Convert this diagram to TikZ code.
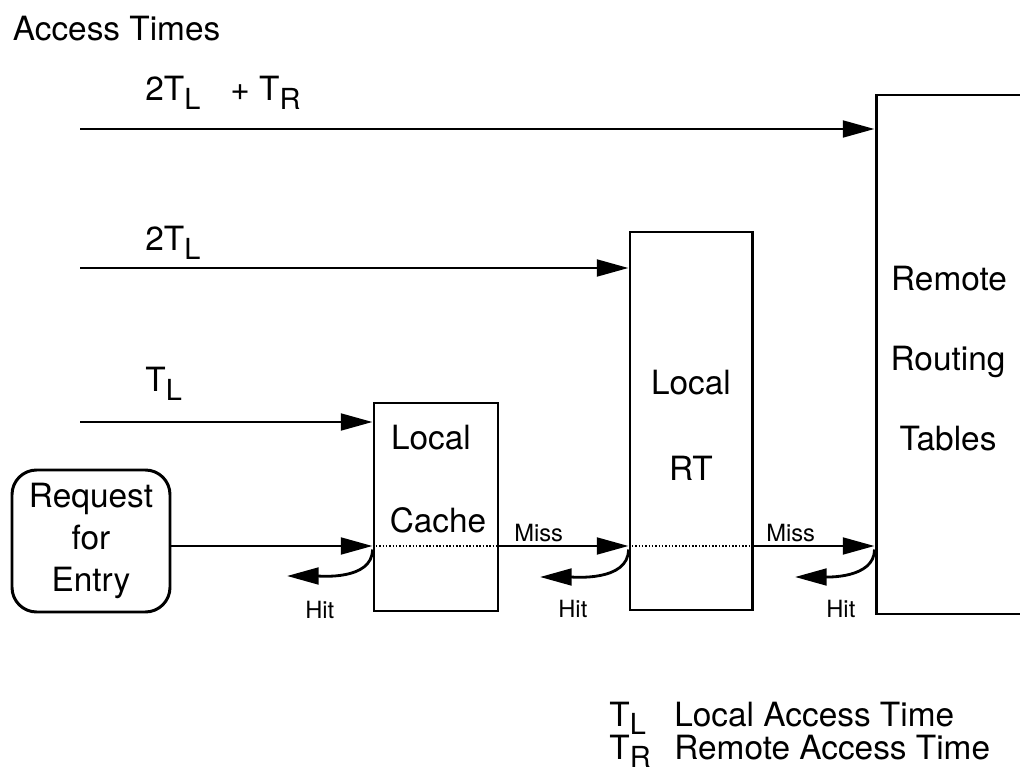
\documentclass[tikz,border=0pt]{standalone}
\usepackage{fontspec}
\setmainfont{TeX Gyre Heros}
\usepackage{tikz}
\usetikzlibrary{arrows.meta}
\usetikzlibrary{backgrounds,positioning}
\pgfdeclarelayer{edgelayer}
\pgfdeclarelayer{nodelayer}
\pgfsetlayers{background,edgelayer,nodelayer,main}
\newcommand{\sbs}[1]{\raisebox{-0.25em}{\fontsize{16.5pt}{16.5pt}\selectfont #1}}
\tikzstyle{none}=[inner sep=0mm]
\tikzstyle{txt}=[inner sep=0mm,font=\fontsize{19pt}{23pt}\selectfont]
\tikzstyle{ltxt}=[txt,anchor=base west]
\tikzstyle{small}=[inner sep=0mm,anchor=west,font=\fontsize{13.5pt}{16pt}\selectfont]
\tikzstyle{blk}=[draw=black,line width=1.7pt,inner sep=0mm,shape=rectangle]
\tikzstyle{req}=[blk,rounded corners=14pt,align=center,font=\fontsize{19pt}{24pt}\selectfont]
\tikzstyle{tipline}=[-{Triangle[length=18pt,width=9.5pt]},line width=1.6pt]
\tikzstyle{scan}=[densely dotted,line width=0.9pt]

\begin{document}
\begin{tikzpicture}
	\useasboundingbox (0, 0) rectangle (20.4, -15.48);
	\begin{pgfonlayer}{nodelayer}
		\node [style=ltxt] (title) at (0.25, -0.82) {Access Times};
		\node [style=ltxt] (t3) at (2.9, -2.02) {2T\sbs{L}\hspace{0.9em}+ T\sbs{R}};
		\node [style=ltxt] (t2) at (2.9, -5.02) {2T\sbs{L}};
		\node [style=ltxt] (t1) at (2.9, -7.84) {T\sbs{L}};
		\node [style=none] (s3) at (1.6, -2.58) {};
		\node [style=none] (s2) at (1.6, -5.36) {};
		\node [style=none] (s1) at (1.6, -8.44) {};
		\node [style=none] (row) at (0, -10.92) {};
		\node [style=req, minimum width=3.16cm, minimum height=2.84cm] (request) at (1.82, -10.82) {Request\\for\\Entry};
		\node [style=blk, minimum width=2.48cm, minimum height=4.16cm] (cache) at (8.72, -10.14) {};
		\node [style=blk, minimum width=2.44cm, minimum height=7.56cm] (rt) at (13.82, -8.42) {};
		\node [style=blk, minimum width=3.4cm, minimum height=10.38cm] (remote) at (19.22, -7.09) {};
		\node [style=txt] (cache1) at (8.62, -8.76) {Local};
		\node [style=txt] (cache2) at (8.76, -10.4) {Cache};
		\node [style=txt] (rt1) at (13.82, -7.66) {Local};
		\node [style=txt] (rt2) at (13.82, -9.36) {RT};
		\node [style=txt] (remote1) at (18.98, -5.58) {Remote};
		\node [style=txt] (remote2) at (18.96, -7.23) {Routing};
		\node [style=txt] (remote3) at (18.96, -8.78) {Tables};
		\node [style=small] (miss1) at (10.28, -10.66) {Miss};
		\node [style=small] (miss2) at (15.32, -10.66) {Miss};
		\node [style=small] (hit1) at (6.1, -12.2) {Hit};
		\node [style=small] (hit2) at (11.16, -12.18) {Hit};
		\node [style=small] (hit3) at (16.52, -12.18) {Hit};
		\node [style=none] (h1) at (5.74, -11.52) {};
		\node [style=none] (h2) at (10.8, -11.54) {};
		\node [style=none] (h3) at (15.9, -11.54) {};
		\node [style=ltxt] (keyl) at (12.18, -14.52) {T\sbs{L}};
		\node [style=ltxt] (keyr) at (12.18, -15.18) {T\sbs{R}};
		\node [style=ltxt] (keyltxt) at (13.48, -14.52) {Local Access Time};
		\node [style=ltxt] (keyrtxt) at (13.48, -15.18) {Remote Access Time};
	\end{pgfonlayer}
	\begin{pgfonlayer}{edgelayer}
		\draw [style=tipline] (s3.center) to (remote.west |- s3.center);
		\draw [style=tipline] (s2.center) to (rt.west |- s2.center);
		\draw [style=tipline] (s1.center) to (cache.west |- s1.center);
		\draw [style=tipline] (request.east |- row.center) to (cache.west |- row.center);
		\draw [style=tipline] (cache.east |- row.center) to (rt.west |- row.center);
		\draw [style=tipline] (rt.east |- row.center) to (remote.west |- row.center);
		\draw [style=scan] (cache.west |- row.center) to (cache.east |- row.center);
		\draw [style=scan] (rt.west |- row.center) to (rt.east |- row.center);
		\draw [style=tipline, out=-90, in=0, looseness=0.9] ([yshift=-2pt]cache.west |- row.center) to (h1.center);
		\draw [style=tipline, out=-90, in=0, looseness=0.9] ([yshift=-2pt]rt.west |- row.center) to (h2.center);
		\draw [style=tipline, out=-90, in=0, looseness=0.9] ([yshift=-2pt]remote.west |- row.center) to (h3.center);
	\end{pgfonlayer}
\end{tikzpicture}
\end{document}
